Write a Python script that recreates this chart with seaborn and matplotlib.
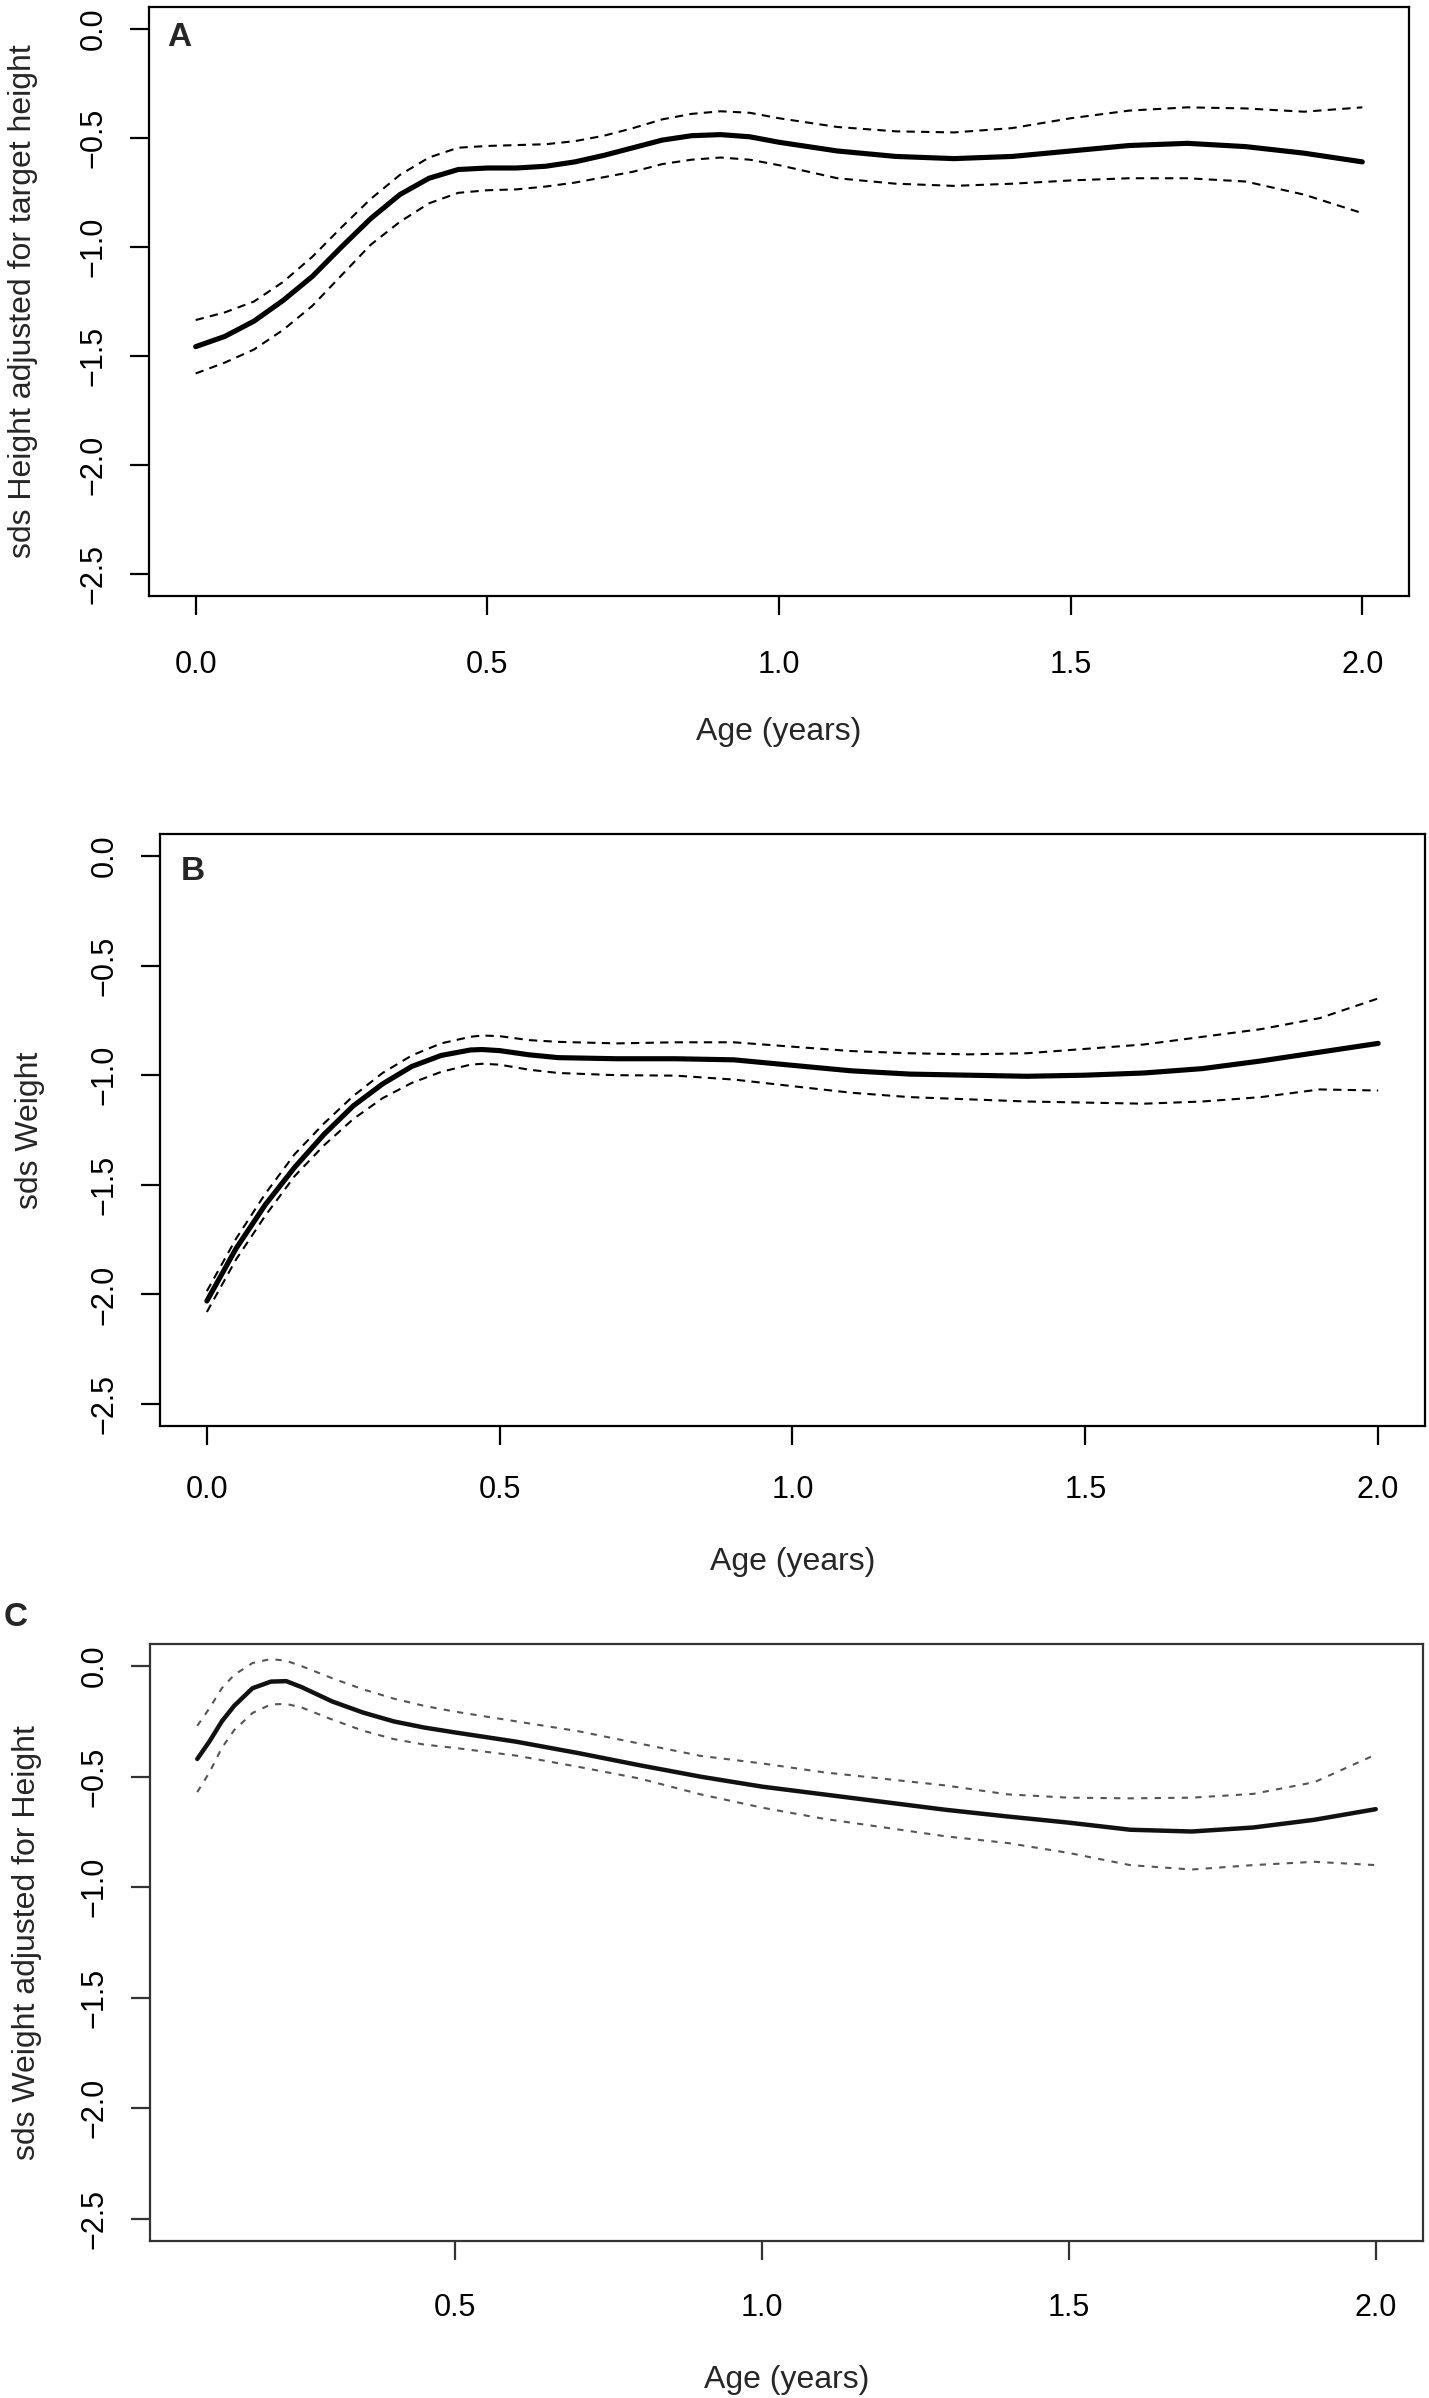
import numpy as np
import pandas as pd
import seaborn as sns
import matplotlib.pyplot as plt

# panel A: sds height adjusted for target height
age_a = [0.0, 0.05, 0.1, 0.15, 0.2, 0.25, 0.3, 0.35, 0.4, 0.45, 0.5, 0.55, 0.6, 0.65, 0.7, 0.75,
         0.8, 0.85, 0.9, 0.95, 1.0, 1.1, 1.2, 1.3, 1.4, 1.5, 1.6, 1.7, 1.8, 1.9, 2.0]
mean_a = [-1.457, -1.41, -1.34, -1.245, -1.135, -1.0, -0.87, -0.76, -0.685, -0.645, -0.638,
          -0.638, -0.63, -0.61, -0.58, -0.545, -0.51, -0.49, -0.485, -0.495, -0.52, -0.56,
          -0.585, -0.595, -0.585, -0.56, -0.535, -0.525, -0.54, -0.57, -0.61]
upper_a = [-1.335, -1.30, -1.25, -1.16, -1.045, -0.91, -0.78, -0.67, -0.59, -0.545, -0.537,
           -0.533, -0.529, -0.515, -0.49, -0.455, -0.415, -0.39, -0.378, -0.385, -0.41, -0.45,
           -0.47, -0.475, -0.455, -0.41, -0.375, -0.36, -0.365, -0.38, -0.36]
lower_a = [-1.58, -1.53, -1.47, -1.38, -1.27, -1.13, -0.99, -0.885, -0.80, -0.752, -0.74,
           -0.736, -0.723, -0.705, -0.68, -0.655, -0.62, -0.60, -0.59, -0.60, -0.625, -0.685,
           -0.71, -0.72, -0.71, -0.695, -0.685, -0.685, -0.70, -0.76, -0.845]

# panel B: sds weight
age_b = [0.0, 0.05, 0.1, 0.15, 0.2, 0.25, 0.3, 0.35, 0.4, 0.45, 0.47, 0.5, 0.55, 0.6, 0.7, 0.8,
         0.9, 1.0, 1.1, 1.2, 1.3, 1.4, 1.5, 1.6, 1.7, 1.8, 1.9, 2.0]
mean_b = [-2.03, -1.79, -1.59, -1.42, -1.27, -1.14, -1.04, -0.96, -0.91, -0.885, -0.883, -0.888,
          -0.907, -0.92, -0.925, -0.925, -0.93, -0.955, -0.98, -0.995, -1.0, -1.005, -1.0,
          -0.99, -0.97, -0.935, -0.895, -0.855]
upper_b = [-1.985, -1.745, -1.54, -1.36, -1.22, -1.095, -0.99, -0.91, -0.855, -0.825, -0.819,
           -0.822, -0.84, -0.848, -0.855, -0.85, -0.85, -0.87, -0.89, -0.90, -0.905, -0.90,
           -0.88, -0.86, -0.825, -0.79, -0.74, -0.65]
lower_b = [-2.08, -1.84, -1.64, -1.46, -1.32, -1.20, -1.105, -1.035, -0.985, -0.952, -0.948,
           -0.952, -0.975, -0.99, -1.0, -1.002, -1.02, -1.05, -1.08, -1.10, -1.11, -1.12,
           -1.125, -1.13, -1.12, -1.10, -1.065, -1.07]

# panel C: sds weight adjusted for height
age_c = [0.08, 0.1, 0.12, 0.14, 0.17, 0.2, 0.225, 0.25, 0.3, 0.35, 0.4, 0.45, 0.5, 0.6, 0.7,
         0.8, 0.9, 1.0, 1.1, 1.2, 1.3, 1.4, 1.5, 1.6, 1.7, 1.8, 1.9, 2.0]
mean_c = [-0.42, -0.34, -0.25, -0.18, -0.10, -0.07, -0.068, -0.095, -0.16, -0.21, -0.25,
          -0.278, -0.30, -0.342, -0.393, -0.448, -0.50, -0.545, -0.58, -0.615, -0.65, -0.68,
          -0.708, -0.74, -0.748, -0.73, -0.695, -0.647]
upper_c = [-0.27, -0.19, -0.10, -0.04, 0.014, 0.032, 0.024, 0.0, -0.055, -0.105, -0.147,
           -0.18, -0.206, -0.25, -0.294, -0.35, -0.406, -0.44, -0.48, -0.51, -0.54, -0.58,
           -0.595, -0.598, -0.595, -0.578, -0.525, -0.40]
lower_c = [-0.57, -0.48, -0.37, -0.29, -0.212, -0.173, -0.171, -0.187, -0.242, -0.292, -0.33,
           -0.355, -0.37, -0.405, -0.455, -0.508, -0.58, -0.64, -0.69, -0.73, -0.77, -0.80,
           -0.845, -0.90, -0.92, -0.90, -0.885, -0.90]

y_ticks = [0.0, -0.5, -1.0, -1.5, -2.0, -2.5]
y_labels = ['0.0', '\u22120.5', '\u22121.0', '\u22121.5', '\u22122.0', '\u22122.5']
x_ticks_ab = [0.0, 0.5, 1.0, 1.5, 2.0]
x_ticks_c = [0.5, 1.0, 1.5, 2.0]

sns.set_style('white')
plt.rcParams['font.family'] = ['Liberation Sans', 'DejaVu Sans']

W, H = 1429, 2398
fig = plt.figure(figsize=(W / 100, H / 100), dpi=100)

panels = [
    dict(box=(149, 7, 1409, 596), x=age_a, m=mean_a, u=upper_a, l=lower_a,
         xlim=(-0.08, 2.08), xt=x_ticks_ab, ylab='sds Height adjusted for target height',
         ylab_x=23, xlab_y=732, tick_y=661, letter='A', letter_xy=(179, 37), col='black',
         dcol='black', mlw=3.7, dash=(4, 3), scol='black'),
    dict(box=(160, 834, 1425, 1426), x=age_b, m=mean_b, u=upper_b, l=lower_b,
         xlim=(-0.08, 2.08), xt=x_ticks_ab, ylab='sds Weight',
         ylab_x=30, xlab_y=1562, tick_y=1486, letter='B', letter_xy=(193, 872), col='black',
         dcol='black', mlw=3.7, dash=(4, 3), scol='black'),
    dict(box=(150, 1644, 1423, 2241), x=age_c, m=mean_c, u=upper_c, l=lower_c,
         xlim=(0.003, 2.077), xt=x_ticks_c, ylab='sds Weight adjusted for Height',
         ylab_x=27, xlab_y=2380, tick_y=2304, letter='C', letter_xy=(16, 1618), col='#111111',
         dcol='#555555', mlw=3.2, dash=(3, 3.5), scol='#333333'),
]

for p in panels:
    l, t, r, b = p['box']
    ax = fig.add_axes([l / W, 1 - b / H, (r - l) / W, (b - t) / H])
    for band in (p['u'], p['l']):
        sns.lineplot(x=p['x'], y=band, ax=ax, color=p['dcol'], lw=1.5,
                     linestyle=(0, p['dash']), estimator=None, sort=False)
    sns.lineplot(x=p['x'], y=p['m'], ax=ax, color=p['col'], lw=p['mlw'], estimator=None,
                 sort=False, solid_joinstyle='round', solid_capstyle='round')
    ax.set_xlim(*p['xlim'])
    ax.set_ylim(-2.6, 0.1)
    ax.set_xticks(p['xt'])
    ax.set_xticklabels(['%.1f' % v for v in p['xt']], fontsize=22)
    ax.set_yticks(y_ticks)
    ax.set_yticklabels(y_labels, fontsize=22, rotation=90, va='center')
    for s in ax.spines.values():
        s.set_linewidth(1.6)
        s.set_color(p['scol'])
    ax.tick_params(axis='x', length=14, width=1.6, pad=(p['tick_y'] - 11 - b - 19) * 0.72,
                   bottom=True, colors=p['scol'], labelcolor='black')
    ax.tick_params(axis='y', length=14, width=1.6, pad=15, left=True, colors=p['scol'],
                   labelcolor='black')
    ax.set_xlabel('Age (years)', fontsize=23)
    ax.set_ylabel(p['ylab'], fontsize=23)
    ax.xaxis.set_label_coords(0.5, (b - p['xlab_y']) / (b - t))
    ax.xaxis.label.set_va('center')
    ax.yaxis.set_label_coords((p['ylab_x'] - l) / (r - l), 0.5)
    ax.yaxis.label.set_va('center')
    fig.text(p['letter_xy'][0] / W, 1 - p['letter_xy'][1] / H, p['letter'], fontsize=24,
             fontweight='bold', ha='center', va='center')

fig.savefig('out.png', dpi=100, facecolor='white')
